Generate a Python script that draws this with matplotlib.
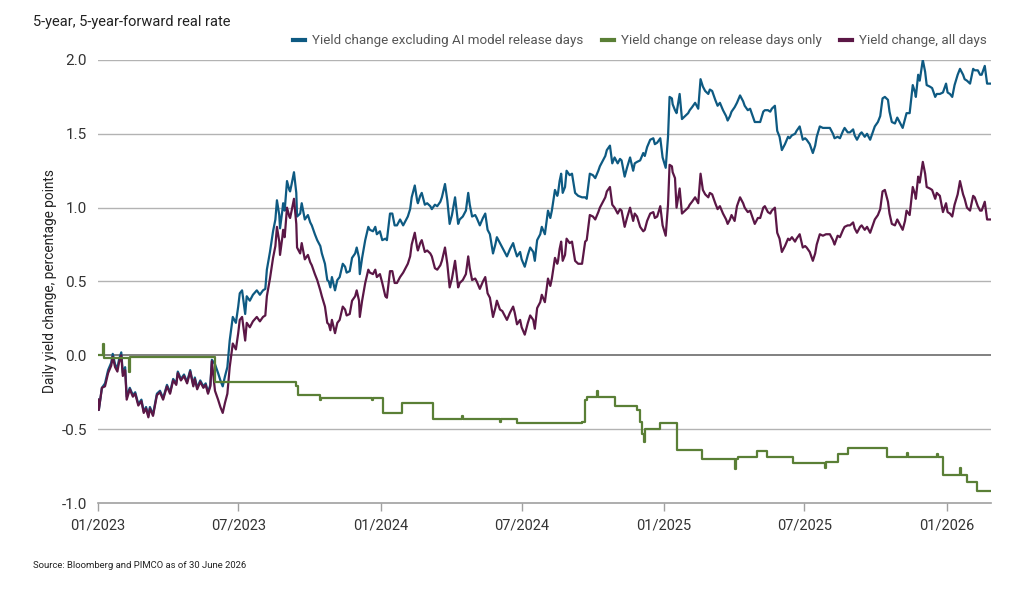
import pandas as pd
import matplotlib
matplotlib.use("Agg")
import matplotlib.pyplot as plt
import matplotlib.dates as mdates
from matplotlib.lines import Line2D

plt.rcParams['font.family'] = ['Roboto', 'DejaVu Sans']
plt.rcParams['axes.unicode_minus'] = False

# days since 2023-01-01 for the two daily-looking series
days = [0, 1, 5, 9, 13, 17, 19, 22, 25, 27, 30, 32, 35, 37, 41, 45, 48, 52, 56, 59,
        62, 65, 67, 71, 76, 80, 84, 89, 93, 97, 101, 103, 107, 111, 115, 119, 123, 125, 128, 132,
        136, 139, 142, 145, 147, 151, 155, 158, 161, 164, 167, 170, 174, 178, 181, 183, 186, 190, 192, 196,
        200, 205, 209, 213, 216, 218, 222, 226, 229, 231, 234, 235, 238, 239, 241, 244, 247, 248, 250, 253,
        256, 257, 261, 263, 267, 271, 274, 276, 280, 283, 287, 289, 293, 296, 298, 300, 302, 306, 309, 312,
        316, 319, 321, 325, 328, 332, 334, 337, 338, 341, 345, 349, 351, 355, 358, 360, 364, 367, 371, 373,
        377, 380, 383, 386, 390, 394, 396, 400, 403, 405, 409, 412, 413, 416, 418, 422, 425, 429, 431, 435,
        438, 442, 444, 448, 451, 454, 457, 461, 465, 467, 471, 475, 478, 480, 483, 487, 489, 493, 497, 500,
        503, 506, 510, 513, 515, 519, 522, 525, 528, 532, 536, 538, 541, 545, 547, 551, 555, 558, 562, 564,
        567, 571, 573, 577, 581, 584, 586, 590, 593, 594, 596, 598, 600, 603, 605, 609, 612, 616, 620, 625,
        629, 631, 635, 639, 642, 646, 648, 651, 655, 657, 661, 664, 667, 671, 674, 676, 680, 683, 687, 691,
        693, 696, 700, 704, 706, 709, 713, 717, 719, 722, 726, 729, 733, 736, 738, 741, 742, 745, 747, 751,
        754, 758, 762, 764, 767, 771, 775, 778, 781, 784, 788, 790, 793, 797, 800, 803, 807, 811, 813, 816,
        818, 822, 825, 829, 833, 835, 839, 842, 844, 848, 852, 855, 859, 861, 865, 868, 870, 874, 877, 880,
        883, 887, 891, 893, 896, 900, 902, 906, 910, 913, 915, 919, 923, 926, 928, 932, 936, 940, 945, 949,
        951, 955, 958, 962, 964, 968, 971, 975, 977, 980, 984, 986, 990, 993, 997, 999, 1003, 1007, 1010, 1013,
        1016, 1020, 1022, 1025, 1029, 1032, 1035, 1039, 1042, 1044, 1048, 1052, 1055, 1056, 1059, 1061, 1065, 1068, 1070, 1074,
        1077, 1081, 1083, 1087, 1091, 1095, 1097, 1100, 1103, 1106, 1110, 1113, 1117, 1119, 1122, 1126, 1130, 1132, 1136, 1139,
        1141, 1145, 1148, 1152]

excl_release = [-0.30, -0.37, -0.22, -0.19, -0.10, -0.05, 0.01, -0.06, -0.09, -0.03, 0.02, -0.12, -0.08, -0.28, -0.22, -0.27, -0.25, -0.33, -0.30, -0.38,
                -0.35, -0.41, -0.35, -0.40, -0.26, -0.24, -0.29, -0.20, -0.25, -0.16, -0.19, -0.11, -0.16, -0.13, -0.18, -0.10, -0.20, -0.15, -0.22, -0.17,
                -0.21, -0.19, -0.25, -0.20, -0.03, -0.06, -0.12, -0.17, -0.21, -0.14, -0.08, 0.10, 0.26, 0.22, 0.33, 0.42, 0.44, 0.28, 0.40, 0.37,
                0.41, 0.44, 0.41, 0.44, 0.45, 0.58, 0.70, 0.84, 0.92, 1.05, 0.95, 0.86, 0.98, 1.03, 0.98, 1.18, 1.12, 1.11, 1.16, 1.24,
                1.10, 0.94, 0.96, 1.03, 0.92, 0.95, 0.90, 0.88, 0.82, 0.78, 0.74, 0.69, 0.62, 0.51, 0.50, 0.46, 0.53, 0.44, 0.51, 0.53,
                0.62, 0.60, 0.56, 0.57, 0.66, 0.69, 0.73, 0.66, 0.55, 0.66, 0.78, 0.87, 0.85, 0.84, 0.87, 0.82, 0.84, 0.78, 0.79, 0.78,
                0.96, 0.96, 0.88, 0.88, 0.92, 0.88, 0.90, 0.94, 0.99, 1.07, 1.15, 1.05, 1.03, 1.08, 1.10, 1.02, 1.03, 1.01, 0.99, 1.02,
                1.01, 1.04, 1.07, 1.16, 1.05, 0.89, 0.95, 1.07, 0.89, 0.92, 0.94, 0.98, 1.10, 1.02, 0.94, 0.95, 0.93, 0.88, 0.93, 0.96,
                0.85, 0.82, 0.69, 0.75, 0.80, 0.76, 0.73, 0.70, 0.67, 0.72, 0.76, 0.72, 0.67, 0.70, 0.65, 0.60, 0.68, 0.73, 0.70, 0.64,
                0.78, 0.82, 0.87, 0.82, 0.98, 0.93, 0.98, 1.12, 1.08, 1.10, 1.18, 1.23, 1.10, 1.14, 1.25, 1.22, 1.23, 1.10, 1.08, 1.07,
                1.07, 1.06, 1.23, 1.22, 1.20, 1.25, 1.28, 1.31, 1.35, 1.39, 1.42, 1.30, 1.34, 1.30, 1.33, 1.32, 1.21, 1.27, 1.34, 1.25,
                1.30, 1.31, 1.32, 1.37, 1.35, 1.41, 1.46, 1.47, 1.43, 1.44, 1.47, 1.34, 1.27, 1.48, 1.75, 1.74, 1.70, 1.66, 1.64, 1.77,
                1.60, 1.62, 1.64, 1.66, 1.68, 1.71, 1.67, 1.87, 1.82, 1.79, 1.77, 1.80, 1.79, 1.73, 1.69, 1.71, 1.66, 1.62, 1.59, 1.62,
                1.65, 1.68, 1.71, 1.76, 1.72, 1.69, 1.66, 1.67, 1.64, 1.58, 1.58, 1.58, 1.65, 1.66, 1.66, 1.65, 1.67, 1.69, 1.52, 1.48,
                1.39, 1.43, 1.48, 1.47, 1.49, 1.50, 1.52, 1.55, 1.46, 1.47, 1.46, 1.43, 1.37, 1.42, 1.48, 1.55, 1.54, 1.54, 1.54, 1.50,
                1.47, 1.48, 1.47, 1.52, 1.54, 1.51, 1.51, 1.53, 1.49, 1.46, 1.50, 1.51, 1.48, 1.50, 1.46, 1.49, 1.55, 1.58, 1.62, 1.74,
                1.75, 1.73, 1.65, 1.58, 1.57, 1.61, 1.58, 1.54, 1.60, 1.64, 1.64, 1.83, 1.78, 1.75, 1.90, 1.86, 2.00, 1.92, 1.83, 1.82,
                1.81, 1.75, 1.77, 1.77, 1.78, 1.84, 1.78, 1.77, 1.75, 1.83, 1.90, 1.94, 1.90, 1.87, 1.86, 1.84, 1.94, 1.93, 1.93, 1.90,
                1.90, 1.96, 1.84, 1.84]

all_days = [-0.30, -0.37, -0.22, -0.21, -0.12, -0.07, -0.01, -0.08, -0.11, -0.05, 0.00, -0.14, -0.10, -0.30, -0.23, -0.28, -0.26, -0.34, -0.31, -0.39,
            -0.36, -0.42, -0.36, -0.41, -0.27, -0.25, -0.30, -0.21, -0.26, -0.17, -0.20, -0.12, -0.17, -0.14, -0.19, -0.11, -0.21, -0.16, -0.23, -0.18,
            -0.22, -0.20, -0.26, -0.21, -0.04, -0.24, -0.30, -0.35, -0.39, -0.32, -0.26, -0.08, 0.08, 0.04, 0.15, 0.24, 0.26, 0.10, 0.22, 0.19,
            0.23, 0.26, 0.23, 0.26, 0.27, 0.40, 0.52, 0.66, 0.74, 0.87, 0.77, 0.68, 0.80, 0.85, 0.80, 1.00, 0.94, 0.93, 0.98, 1.06,
            0.89, 0.73, 0.69, 0.76, 0.65, 0.68, 0.63, 0.61, 0.55, 0.51, 0.44, 0.40, 0.33, 0.22, 0.21, 0.17, 0.24, 0.15, 0.22, 0.24,
            0.33, 0.31, 0.27, 0.28, 0.37, 0.40, 0.44, 0.37, 0.26, 0.37, 0.49, 0.58, 0.56, 0.55, 0.58, 0.53, 0.55, 0.49, 0.40, 0.39,
            0.57, 0.57, 0.49, 0.49, 0.53, 0.56, 0.58, 0.62, 0.67, 0.75, 0.83, 0.73, 0.71, 0.76, 0.78, 0.70, 0.71, 0.69, 0.67, 0.59,
            0.58, 0.61, 0.64, 0.73, 0.62, 0.46, 0.52, 0.64, 0.46, 0.49, 0.51, 0.55, 0.67, 0.59, 0.51, 0.52, 0.50, 0.45, 0.50, 0.53,
            0.42, 0.39, 0.26, 0.32, 0.37, 0.31, 0.30, 0.27, 0.24, 0.29, 0.33, 0.29, 0.21, 0.24, 0.19, 0.14, 0.22, 0.27, 0.24, 0.18,
            0.32, 0.36, 0.41, 0.36, 0.52, 0.47, 0.52, 0.66, 0.62, 0.64, 0.72, 0.77, 0.64, 0.68, 0.79, 0.76, 0.77, 0.64, 0.62, 0.62,
            0.77, 0.78, 0.95, 0.94, 0.92, 0.97, 1.00, 1.03, 1.07, 1.11, 1.14, 1.02, 1.00, 0.96, 0.99, 0.98, 0.87, 0.93, 1.00, 0.91,
            0.96, 0.94, 0.87, 0.84, 0.85, 0.91, 0.96, 0.97, 0.93, 0.94, 1.01, 0.88, 0.81, 1.02, 1.29, 1.28, 1.24, 1.20, 1.00, 1.13,
            0.96, 0.98, 1.00, 1.02, 1.04, 1.07, 1.03, 1.23, 1.12, 1.09, 1.07, 1.10, 1.09, 1.03, 0.99, 1.01, 0.96, 0.92, 0.89, 0.92,
            0.95, 0.91, 1.01, 1.07, 1.03, 1.00, 0.97, 0.98, 0.95, 0.89, 0.93, 0.93, 1.00, 1.01, 0.97, 0.96, 0.98, 1.00, 0.83, 0.79,
            0.70, 0.74, 0.79, 0.78, 0.80, 0.77, 0.79, 0.82, 0.73, 0.74, 0.73, 0.70, 0.64, 0.69, 0.75, 0.82, 0.81, 0.82, 0.82, 0.78,
            0.75, 0.81, 0.80, 0.85, 0.87, 0.88, 0.88, 0.90, 0.86, 0.83, 0.87, 0.88, 0.85, 0.87, 0.83, 0.86, 0.92, 0.95, 0.99, 1.11,
            1.12, 1.04, 0.96, 0.89, 0.88, 0.92, 0.89, 0.85, 0.91, 0.98, 0.95, 1.14, 1.09, 1.06, 1.21, 1.17, 1.31, 1.23, 1.14, 1.13,
            1.12, 1.06, 1.10, 1.08, 0.97, 1.03, 0.97, 0.96, 0.94, 1.02, 1.09, 1.18, 1.09, 1.06, 1.00, 0.98, 1.08, 1.07, 1.01, 0.98,
            0.98, 1.04, 0.92, 0.92]

# release-days-only series: level changes (days since 2023-01-01)
release_days = [0, 6, 8, 40, 41, 151, 256, 258, 287, 288, 354, 355, 368, 392, 432, 470, 471, 519, 520, 541,
                625, 629, 631, 644, 646, 667, 696, 700, 702, 705, 706, 726, 747, 780, 822, 824, 826, 851, 864, 897,
                939, 940, 955, 968, 1019, 1044, 1046, 1083, 1084, 1091, 1113, 1114, 1122, 1135, 1153]
release_only = [0.00, 0.08, -0.02, -0.11, -0.01, -0.18, -0.21, -0.27, -0.30, -0.29, -0.30, -0.29, -0.39, -0.32, -0.43, -0.41, -0.43, -0.45, -0.43, -0.46,
                -0.45, -0.30, -0.28, -0.24, -0.28, -0.34, -0.37, -0.45, -0.53, -0.59, -0.50, -0.46, -0.64, -0.70, -0.77, -0.70, -0.69, -0.65, -0.69, -0.73,
                -0.76, -0.72, -0.67, -0.63, -0.69, -0.66, -0.69, -0.67, -0.69, -0.81, -0.76, -0.81, -0.86, -0.92, -0.92]

labels = ["Yield change excluding AI model release days",
          "Yield change on release days only",
          "Yield change, all days"]
colors = ["#0e5a82", "#5a7f36", "#5b1746"]

start = pd.Timestamp("2023-01-01")
d_main = start + pd.to_timedelta(days, unit="D")
d_rel = start + pd.to_timedelta(release_days, unit="D")

fig = plt.figure(figsize=(10.17, 5.91), dpi=100)
ax = fig.add_axes([0.0964, 0.1489, 0.878, 0.7496])

for y in [-0.5, 0.5, 1.0, 1.5, 2.0]:
    ax.axhline(y, color="#b3b3b3", lw=1.0, zorder=1)
ax.axhline(0, color="#6b6b6b", lw=1.2, zorder=1)

ax.plot(d_main, excl_release, color=colors[0], lw=1.6, zorder=3)
ax.plot(d_main, all_days, color=colors[2], lw=1.6, zorder=4)
ax.plot(d_rel, release_only, color=colors[1], lw=1.6, drawstyle="steps-post", zorder=5)

ax.set_ylim(-1.0, 2.0)
ax.set_xlim(start, start + pd.Timedelta(days=1153))
ax.set_yticks([-1.0, -0.5, 0.0, 0.5, 1.0, 1.5, 2.0])
ax.yaxis.set_major_formatter(plt.FormatStrFormatter("%.1f"))
ax.xaxis.set_major_locator(mdates.MonthLocator(bymonth=[1, 7]))
ax.xaxis.set_major_formatter(mdates.DateFormatter("%m/%Y"))

for s in ["top", "right", "left"]:
    ax.spines[s].set_visible(False)
ax.spines["bottom"].set_color("#a0a0a0")
ax.spines["bottom"].set_linewidth(1.2)
ax.tick_params(axis="y", length=0, pad=8, labelsize=11, labelcolor="#333333")
ax.tick_params(axis="x", length=6, width=1, color="#a0a0a0", pad=5, labelsize=10.5, labelcolor="#333333")

ax.set_ylabel("Daily yield change, percentage points", fontsize=9.8, color="#222222", labelpad=3)

fig.text(0.032, 0.974, "5-year, 5-year-forward real rate", fontsize=10.5, color="#222222", va="top")
fig.text(0.032, 0.043, "Source: Bloomberg and PIMCO as of 30 June 2026", fontsize=6.8, color="#222222", va="center")

handles = [Line2D([0], [0], color=c, lw=3) for c in colors]
fig.legend(handles, labels, loc="upper right", bbox_to_anchor=(0.982, 0.962), ncol=3, frameon=False,
           fontsize=9.6, labelcolor="#555555", handlelength=0.9, handletextpad=0.5, columnspacing=1.4)

fig.savefig("out.png", dpi=100)
